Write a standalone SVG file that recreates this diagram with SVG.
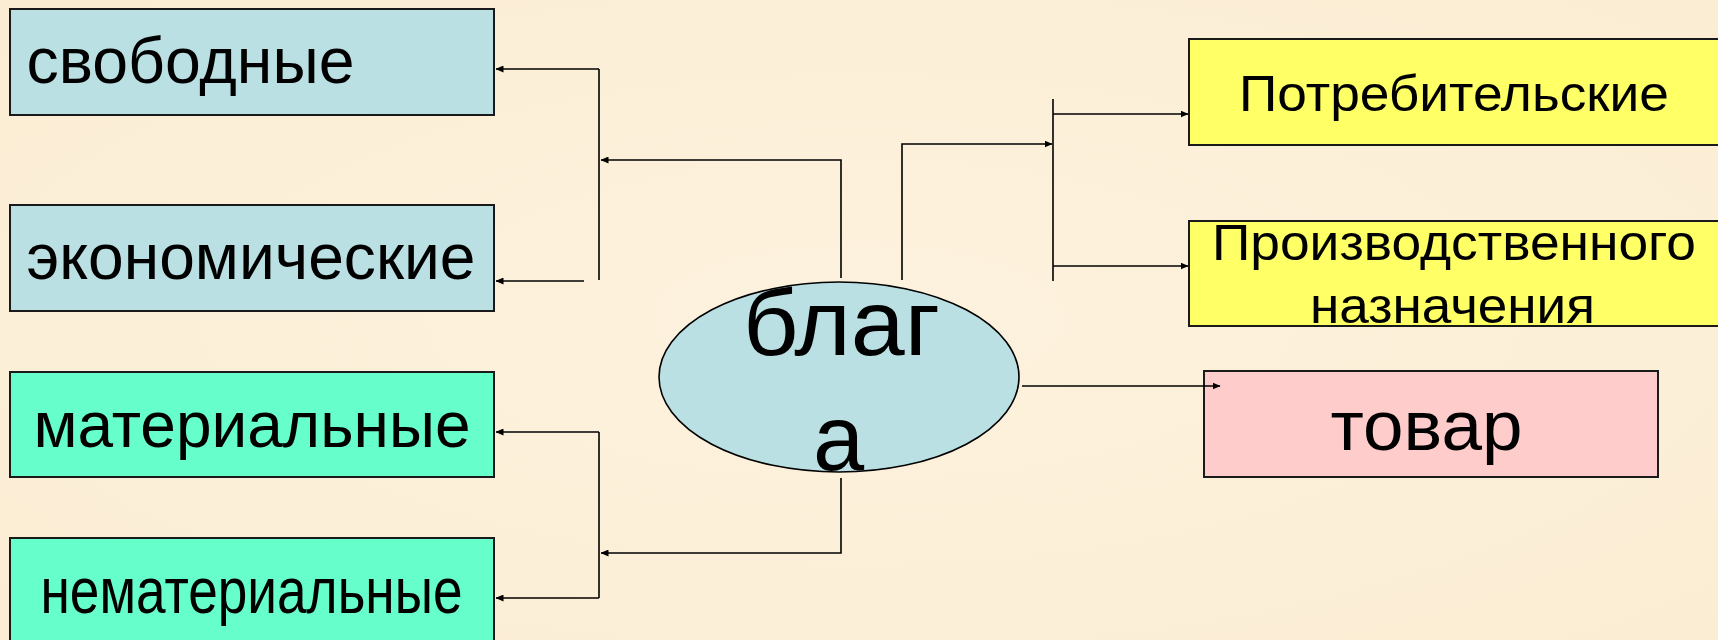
<svg xmlns="http://www.w3.org/2000/svg" width="1718" height="640" viewBox="0 0 1718 640">
  <defs>
    <marker id="ah" markerWidth="8" markerHeight="7" refX="7.5" refY="3.5" orient="auto" markerUnits="userSpaceOnUse">
      <path d="M0,0 L8,3.5 L0,7 Z" fill="#000"/>
    </marker>
    <radialGradient id="bg" cx="50%" cy="50%" r="75%">
      <stop offset="0" stop-color="#FDF2DE"/>
      <stop offset="1" stop-color="#FBEDD3"/>
    </radialGradient>
  </defs>
  <style>
    .box { stroke: #1a1a1a; stroke-width: 2; }
    .blue { fill: #BAE0E3; }
    .green { fill: #66FFCC; }
    .yellow { fill: #FFFF66; }
    .pink { fill: #FFCCCC; }
    .t { font-family: "Liberation Sans", Arial, sans-serif; fill: #000; text-anchor: middle; }
    .conn { fill: none; stroke: #000; stroke-width: 1.6; }
    .arr { marker-end: url(#ah); }
  </style>
  <rect x="0" y="0" width="1718" height="640" fill="url(#bg)"/>

  <g id="svobodnye">
    <rect class="box blue" x="10" y="9" width="484" height="106"/>
    <text class="t" x="190.5" y="83" font-size="64" textLength="328" lengthAdjust="spacingAndGlyphs">свободные</text>
  </g>
  <g id="ekonomicheskie">
    <rect class="box blue" x="10" y="205" width="484" height="106"/>
    <text class="t" x="251" y="279" font-size="64" textLength="449" lengthAdjust="spacingAndGlyphs">экономические</text>
  </g>
  <g id="materialnye">
    <rect class="box green" x="10" y="372" width="484" height="105"/>
    <text class="t" x="252" y="447" font-size="64" textLength="437" lengthAdjust="spacingAndGlyphs">материальные</text>
  </g>
  <g id="nematerialnye">
    <rect class="box green" x="10" y="538" width="484" height="110"/>
    <text class="t" x="251.5" y="613" font-size="64" textLength="422" lengthAdjust="spacingAndGlyphs">нематериальные</text>
  </g>
  <g id="blaga">
    <ellipse cx="839" cy="377" rx="180" ry="95" fill="#BAE0E3" stroke="#000" stroke-width="1.6"/>
    <text class="t" x="841.5" y="355" font-size="92" textLength="197" lengthAdjust="spacingAndGlyphs">благ</text>
    <text class="t" x="838.5" y="470" font-size="92">а</text>
  </g>
  <g id="potrebitelskie">
    <rect class="box yellow" x="1189" y="39" width="535" height="106"/>
    <text class="t" x="1454" y="111" font-size="50" textLength="430" lengthAdjust="spacingAndGlyphs">Потребительские</text>
  </g>
  <g id="proizvodstvennogo">
    <rect class="box yellow" x="1189" y="221" width="535" height="105"/>
    <text class="t" x="1454" y="260" font-size="50" textLength="484" lengthAdjust="spacingAndGlyphs">Производственного</text>
    <text class="t" x="1452.5" y="323" font-size="50" textLength="285" lengthAdjust="spacingAndGlyphs">назначения</text>
  </g>
  <g id="tovar">
    <rect class="box pink" x="1204" y="371" width="454" height="106"/>
    <text class="t" x="1426.5" y="450" font-size="70" textLength="192" lengthAdjust="spacingAndGlyphs">товар</text>
  </g>

  <g id="connectors">
    <path class="conn arr" d="M841,278 V160 H601"/>
    <path class="conn" d="M599,69 V280"/>
    <path class="conn arr" d="M599,69 H496"/>
    <path class="conn arr" d="M584,281 H496"/>

    <path class="conn arr" d="M902,280 V144 H1052"/>
    <path class="conn" d="M1053,99 V281"/>
    <path class="conn arr" d="M1053,114 H1188"/>
    <path class="conn arr" d="M1053,266 H1188"/>

    <path class="conn arr" d="M1022,386 H1220"/>

    <path class="conn arr" d="M841,478 V553 H601"/>
    <path class="conn" d="M599,432 V598"/>
    <path class="conn arr" d="M599,432 H496"/>
    <path class="conn arr" d="M599,598 H496"/>
  </g>
</svg>
